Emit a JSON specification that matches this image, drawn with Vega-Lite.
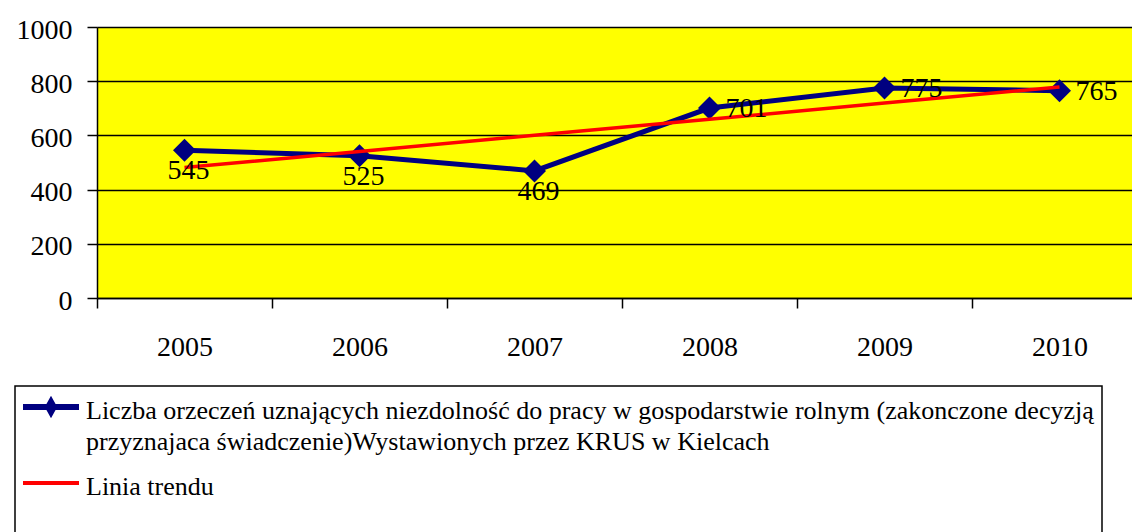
{
  "$schema": "https://vega.github.io/schema/vega-lite/v6.json",
  "autosize": {"type": "none"},
  "padding": {"left": 97, "top": 27, "right": 0, "bottom": 234},
  "width": 1035,
  "height": 271,
  "background": "#ffffff",
  "config": {
    "view": {"fill": "#ffff00", "stroke": null},
    "font": "Liberation Serif, Times New Roman, DejaVu Serif, serif",
    "axis": {
      "labelFont": "Liberation Serif, Times New Roman, DejaVu Serif, serif",
      "labelFontSize": 28,
      "labelColor": "#000000",
      "domainColor": "#000000",
      "tickColor": "#000000",
      "domainWidth": 1.5,
      "tickWidth": 1.5,
      "title": null
    }
  },
  "data": {
    "values": [
      {"year": "2005", "value": 545, "trend": 481.3},
      {"year": "2006", "value": 525, "trend": 540.8},
      {"year": "2007", "value": 469, "trend": 600.3},
      {"year": "2008", "value": 701, "trend": 659.7},
      {"year": "2009", "value": 775, "trend": 719.2},
      {"year": "2010", "value": 765, "trend": 778.7}
    ]
  },
  "encoding": {
    "x": {
      "field": "year",
      "type": "nominal",
      "sort": null,
      "scale": {"type": "band", "range": [0, 1050], "paddingInner": 0, "paddingOuter": 0},
      "axis": {
        "labelAngle": 0,
        "tickBand": "extent",
        "tickSize": 10,
        "labelPadding": 25,
        "labelBaseline": "top",
        "grid": false
      }
    }
  },
  "layer": [
    {
      "mark": {"type": "line", "strokeWidth": 5},
      "encoding": {
        "y": {
          "field": "value",
          "type": "quantitative",
          "scale": {"domain": [0, 1000], "nice": false},
          "axis": {
            "values": [0, 200, 400, 600, 800, 1000],
            "format": "d",
            "grid": true,
            "gridColor": "#000000",
            "gridWidth": 1.5,
            "gridOpacity": 1,
            "tickSize": 10,
            "labelPadding": 15,
            "labelOffset": 3
          }
        },
        "color": {
          "datum": "Liczba orzeczeń uznających niezdolność do pracy w gospodarstwie rolnym (zakonczone decyzją przyznajaca świadczenie)Wystawionych przez KRUS w Kielcach",
          "scale": {
            "domain": [
              "Liczba orzeczeń uznających niezdolność do pracy w gospodarstwie rolnym (zakonczone decyzją przyznajaca świadczenie)Wystawionych przez KRUS w Kielcach",
              "Linia trendu"
            ],
            "range": ["#000080", "#ff0000"]
          },
          "legend": {
            "orient": "none",
            "legendX": -82,
            "legendY": 359,
            "title": " ",
            "titleOrient": "bottom",
            "titlePadding": 30,
            "titleFontSize": 20,
            "strokeColor": "#000000",
            "fillColor": "#ffffff",
            "cornerRadius": 0,
            "padding": 8,
            "rowPadding": 15,
            "symbolSize": 3136,
            "symbolOffset": 15,
            "labelOffset": 22,
            "labelFont": "Liberation Serif, Times New Roman, DejaVu Serif, serif",
            "labelFontSize": 26,
            "labelColor": "#000000",
            "labelLimit": 0,
            "labelBaseline": "top",
            "labelExpr": "datum.value == 'Linia trendu' ? datum.label : ['Liczba orzeczeń uznających niezdolność do pracy w gospodarstwie rolnym (zakonczone decyzją', 'przyznajaca świadczenie)Wystawionych przez KRUS w Kielcach']",
            "encode": {
              "legend": {
                "update": {
                  "strokeWidth": {"value": 1.5}
                }
              },
              "symbols": {
                "update": {
                  "shape": {"signal": "datum.value == 'Linia trendu' ? 'M-1,0L1,0' : 'M-1,0L1,0M0,-0.18L0.1,0L0,0.18L-0.1,0Z'"},
                  "fill": {"signal": "datum.value == 'Linia trendu' ? 'transparent' : '#000080'"},
                  "strokeWidth": {"signal": "datum.value == 'Linia trendu' ? 4 : 6"}
                }
              },
              "labels": {
                "update": {
                  "lineHeight": {"value": 31},
                  "dy": {"value": -9}
                }
              }
            }
          }
        }
      }
    },
    {
      "mark": {"type": "point", "shape": "diamond", "filled": true, "color": "#000080", "size": 530, "opacity": 1},
      "encoding": {"y": {"field": "value", "type": "quantitative"}}
    },
    {
      "mark": {"type": "line", "strokeWidth": 3.5},
      "encoding": {
        "y": {"field": "trend", "type": "quantitative"},
        "color": {"datum": "Linia trendu"}
      }
    },
    {
      "transform": [{"filter": {"field": "year", "oneOf": ["2005", "2006", "2007"]}}],
      "mark": {"type": "text", "font": "Liberation Serif, Times New Roman, DejaVu Serif, serif", "fontSize": 28, "color": "#000000", "baseline": "middle", "align": "center", "dy": 21, "dx": 4},
      "encoding": {
        "y": {"field": "value", "type": "quantitative"},
        "text": {"field": "value", "type": "quantitative"}
      }
    },
    {
      "transform": [{"filter": {"field": "year", "oneOf": ["2008", "2009", "2010"]}}],
      "mark": {"type": "text", "font": "Liberation Serif, Times New Roman, DejaVu Serif, serif", "fontSize": 28, "color": "#000000", "baseline": "middle", "align": "left", "dx": 16, "dy": 1},
      "encoding": {
        "y": {"field": "value", "type": "quantitative"},
        "text": {"field": "value", "type": "quantitative"}
      }
    }
  ]
}
